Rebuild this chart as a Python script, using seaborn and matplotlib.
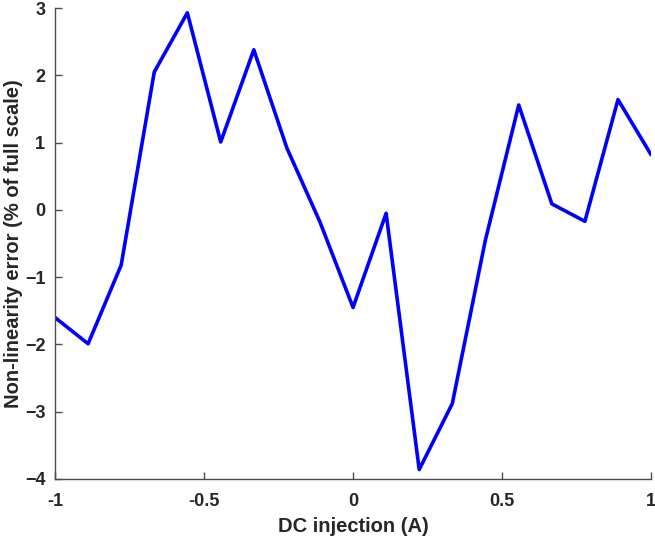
import numpy as np
import pandas as pd
import seaborn as sns
import matplotlib.pyplot as plt

# DC injection points (A) and measured non-linearity error (% of full scale)
dc_current = [-1.0, -0.889, -0.778, -0.667, -0.556, -0.444, -0.333, -0.222, -0.111, 0.0,
              0.111, 0.222, 0.333, 0.444, 0.556, 0.667, 0.778, 0.889, 1.0]
nl_error = [-1.60, -1.99, -0.82, 2.05, 2.93, 1.01, 2.38, 0.92, -0.18, -1.45,
            -0.05, -3.86, -2.88, -0.45, 1.56, 0.09, -0.17, 1.64, 0.82]
x_ticks = [-1, -0.5, 0, 0.5, 1]
x_tick_labels = ["-1", "-0.5", "0", "0.5", "1"]
y_ticks = [-4, -3, -2, -1, 0, 1, 2, 3]

df = pd.DataFrame({"dc": dc_current, "err": nl_error})

sns.set_style("ticks")
plt.rcParams["font.family"] = ["Liberation Sans", "DejaVu Sans"]
plt.rcParams["xtick.direction"] = "in"
plt.rcParams["ytick.direction"] = "in"

fig = plt.figure(figsize=(6.55, 5.4), dpi=100)
ax = fig.add_axes([0.084, 0.113, 0.91, 0.872])

sns.lineplot(data=df, x="dc", y="err", color="#0000ff", linewidth=2.6, ax=ax)

ax.set_xlim(-1, 1)
ax.set_ylim(-4, 3)
ax.set_xticks(x_ticks)
ax.set_xticklabels(x_tick_labels)
ax.set_yticks(y_ticks)

for side in ["top", "right"]:
    ax.spines[side].set_visible(False)
for side in ["left", "bottom"]:
    ax.spines[side].set_color("#4d4d4d")
    ax.spines[side].set_linewidth(1.0)

ax.tick_params(axis="both", colors="#4d4d4d", length=5, width=1.0, labelsize=13,
               labelcolor="#262626")
ax.tick_params(axis="x", pad=10)
ax.tick_params(axis="y", pad=7)
for lbl in ax.get_xticklabels() + ax.get_yticklabels():
    lbl.set_fontweight("bold")

ax.set_xlabel("DC injection (A)", fontsize=14.5, fontweight="bold", color="#262626", labelpad=5)
ax.set_ylabel("Non-linearity error (% of full scale)", fontsize=14.5, fontweight="bold",
              color="#262626", labelpad=1)

fig.savefig("out.png", dpi=100)
